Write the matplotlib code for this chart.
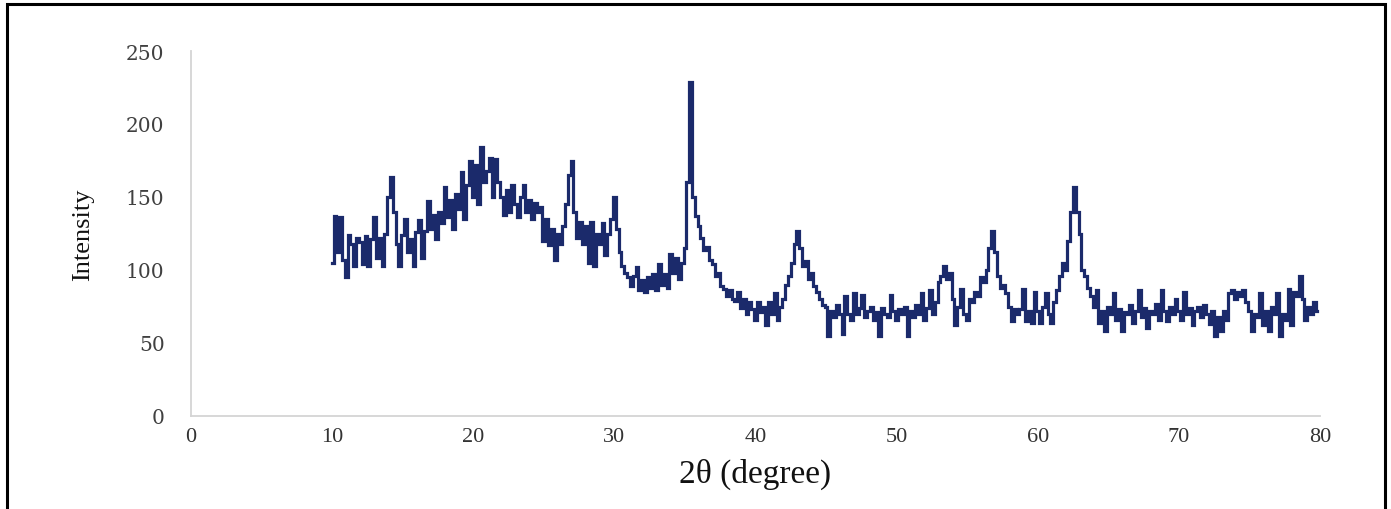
import numpy as np
import matplotlib
matplotlib.use("Agg")
import matplotlib.pyplot as plt
from matplotlib.patches import Rectangle

# XRD pattern, intensity sampled every 0.2 degree (2-theta), one list per 10-degree span
intensity_10_20 = [105, 137, 112, 136, 107, 95, 124, 118, 103, 122,
                   119, 104, 123, 103, 121, 136, 108, 122, 103, 125,
                   150, 164, 140, 118, 103, 124, 135, 112, 121, 103,
                   126, 134, 108, 127, 147, 128, 138, 121, 140, 132,
                   157, 136, 148, 128, 152, 142, 167, 135, 158, 175]
intensity_20_30 = [150, 172, 145, 184, 160, 168, 177, 150, 176, 160,
                   150, 138, 155, 140, 158, 145, 136, 150, 158, 140,
                   148, 135, 146, 140, 143, 120, 135, 117, 128, 107,
                   125, 118, 130, 145, 165, 175, 140, 122, 133, 118,
                   130, 105, 133, 103, 125, 118, 132, 110, 125, 135]
intensity_30_40 = [150, 128, 112, 103, 98, 95, 89, 96, 102, 86,
                   93, 85, 95, 88, 97, 86, 104, 90, 97, 88,
                   111, 98, 108, 94, 105, 115, 160, 229, 150, 137,
                   130, 122, 114, 116, 107, 104, 96, 98, 89, 87,
                   82, 86, 80, 79, 85, 74, 80, 70, 78, 73]
intensity_40_50 = [66, 78, 71, 75, 62, 78, 70, 84, 66, 75,
                   80, 90, 96, 105, 118, 127, 115, 103, 106, 94,
                   98, 89, 85, 80, 76, 75, 55, 72, 68, 76,
                   70, 56, 82, 70, 66, 84, 70, 74, 83, 68,
                   72, 75, 66, 71, 55, 74, 70, 68, 83, 72]
intensity_50_60 = [66, 73, 70, 75, 55, 72, 68, 76, 70, 84,
                   66, 74, 86, 70, 78, 92, 96, 103, 94, 98,
                   80, 62, 75, 87, 70, 66, 80, 78, 85, 82,
                   95, 92, 100, 115, 127, 112, 96, 88, 90, 84,
                   75, 65, 73, 70, 73, 87, 65, 72, 64, 85]
intensity_60_70 = [72, 64, 75, 84, 70, 64, 78, 86, 96, 105,
                   100, 120, 140, 157, 140, 125, 100, 96, 88, 82,
                   75, 86, 64, 72, 58, 75, 70, 84, 66, 73,
                   58, 71, 70, 76, 64, 72, 86, 68, 74, 60,
                   72, 70, 77, 66, 86, 72, 65, 75, 70, 80]
intensity_70_80 = [72, 66, 85, 70, 74, 62, 72, 75, 68, 76,
                   70, 63, 72, 55, 68, 58, 72, 66, 84, 86,
                   80, 85, 82, 86, 78, 72, 58, 70, 68, 84,
                   62, 72, 58, 75, 70, 84, 55, 70, 66, 87,
                   62, 85, 82, 96, 80, 66, 75, 70, 78, 72]

segments = [intensity_10_20, intensity_20_30, intensity_30_40, intensity_40_50,
            intensity_50_60, intensity_60_70, intensity_70_80]
intensity = np.concatenate([np.asarray(s, dtype=float) for s in segments])
two_theta = 10.0 + 0.2 * np.arange(intensity.size)

x_ticks = [0, 10, 20, 30, 40, 50, 60, 70, 80]
y_ticks = [0, 50, 100, 150, 200, 250]

W, H = 1391, 510
fig = plt.figure(figsize=(W / 100, H / 100), dpi=100)
fig.patch.set_facecolor("white")

# outer frame
fig.add_artist(Rectangle((7 / W, -0.05), (1385 - 7) / W, 1.05 - 5 / H,
                         transform=fig.transFigure, fill=False,
                         edgecolor="black", linewidth=2.2))

ax = fig.add_axes([191 / W, 1 - 417 / H, (1320 - 191) / W, (417 - 52) / H])
ax.plot(two_theta, intensity, color="#1b2a6b", linewidth=2.3,
        drawstyle="steps-mid", solid_joinstyle="miter")

ax.set_xlim(0, 80)
ax.set_ylim(0, 250)
ax.set_xticks(x_ticks)
ax.set_yticks(y_ticks)
ax.tick_params(length=0)
for lbl in ax.get_xticklabels():
    lbl.set_fontfamily("Liberation Serif")
    lbl.set_fontsize(16)
    lbl.set_color("#333333")
for lbl in ax.get_yticklabels():
    lbl.set_fontfamily("DejaVu Serif")
    lbl.set_fontsize(14.5)
    lbl.set_color("#404040")
ax.tick_params(axis="x", pad=8)
ax.tick_params(axis="y", pad=19)

for side in ("top", "right"):
    ax.spines[side].set_visible(False)
for side in ("left", "bottom"):
    ax.spines[side].set_color("#d4d4d4")
    ax.spines[side].set_linewidth(1.3)

fig.text(755 / W, 1 - 474 / H, "2θ (degree)", fontsize=24,
         family="Liberation Serif", ha="center", va="center", color="#111111")
fig.text(83 / W, 1 - 235 / H, "Intensity", fontsize=19, rotation=90,
         family="Liberation Serif", ha="center", va="center", color="#111111")

fig.savefig("out.png", dpi=100, facecolor="white")
